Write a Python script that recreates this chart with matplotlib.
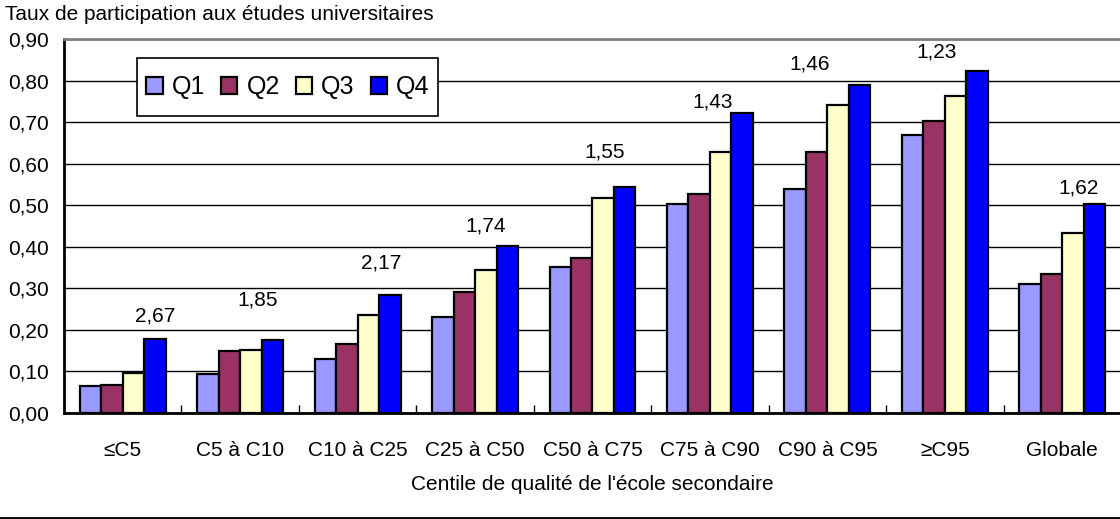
import numpy as np
import matplotlib
matplotlib.use('Agg')
import matplotlib.pyplot as plt
from matplotlib.lines import Line2D
from matplotlib.patches import Rectangle
from matplotlib.ticker import FuncFormatter

plt.rcParams['font.family'] = ['Liberation Sans', 'DejaVu Sans']

# donnees
categories = ['≤C5', 'C5 à C10', 'C10 à C25', 'C25 à C50', 'C50 à C75',
              'C75 à C90', 'C90 à C95', '≥C95', 'Globale']
q1 = [0.065, 0.094, 0.131, 0.232, 0.352, 0.504, 0.540, 0.668, 0.310]
q2 = [0.068, 0.150, 0.166, 0.292, 0.372, 0.527, 0.628, 0.702, 0.334]
q3 = [0.096, 0.152, 0.237, 0.343, 0.518, 0.628, 0.742, 0.763, 0.433]
q4 = [0.178, 0.175, 0.285, 0.403, 0.544, 0.722, 0.790, 0.824, 0.502]
ratios = ['2,67', '1,85', '2,17', '1,74', '1,55', '1,43', '1,46', '1,23', '1,62']
# position des etiquettes de ratio (decalage x en categories, hauteur y)
ratio_dx = [0.28, 0.15, 0.20, 0.09, 0.10, 0.02, -0.15, -0.07, 0.14]
ratio_y = [0.233, 0.272, 0.361, 0.450, 0.627, 0.748, 0.839, 0.868, 0.541]

series = [('Q1', q1, '#9999FF'), ('Q2', q2, '#993366'),
          ('Q3', q3, '#FFFFCC'), ('Q4', q4, '#0000FF')]

fig = plt.figure(figsize=(11.2, 5.19), dpi=100)
ax = fig.add_axes([64 / 1120, 1 - 413 / 519, (1121 - 64) / 1120, (413 - 39) / 519])

x = np.arange(len(categories))
w = 0.183
handles = []
for i, (name, vals, col) in enumerate(series):
    b = ax.bar(x + (i - 1.5) * w, vals, w, color=col, edgecolor='black',
               linewidth=1.6, label=name, zorder=3)
    handles.append(b)

for i, r in enumerate(ratios):
    ax.text(x[i] + ratio_dx[i], ratio_y[i], r, ha='center', va='center',
            fontsize=15, zorder=4)

ax.set_xlim(-0.5, len(categories) - 0.5)
ax.set_ylim(0, 0.9)
ax.set_yticks(np.arange(0, 0.91, 0.1))
ax.yaxis.set_major_formatter(FuncFormatter(lambda v, p: ('%.2f' % v).replace('.', ',')))
ax.grid(axis='y', color='black', linewidth=1, zorder=0)
ax.set_xticks(x)
ax.set_xticklabels(categories)
ax.set_xticks(np.arange(0.5, len(categories) - 1, 1), minor=True)
ax.tick_params(axis='x', which='major', length=0, pad=20, labelsize=15)
ax.tick_params(axis='x', which='minor', length=6, direction='in', width=1)
ax.tick_params(axis='y', length=0, labelsize=15, pad=11)

for s in ['left', 'bottom']:
    ax.spines[s].set_linewidth(2)
ax.spines['top'].set_color('#808080')
ax.spines['top'].set_linewidth(2)
ax.spines['right'].set_visible(False)

ax.set_xlabel("Centile de qualité de l'école secondaire", fontsize=15, labelpad=11)
fig.text(5 / 1120, 1 - 14 / 519, 'Taux de participation aux études universitaires',
         fontsize=15, ha='left', va='center')

# cadre de la legende
fig.add_artist(Rectangle((137 / 1120, 1 - 116 / 519), 301 / 1120, 58 / 519,
                         transform=fig.transFigure, facecolor='white',
                         edgecolor='black', linewidth=1.2, zorder=4))
fig.legend(handles, [s[0] for s in series], loc='center',
           bbox_to_anchor=(288 / 1120, 1 - 87 / 519), ncol=4, fontsize=18,
           frameon=False, handlelength=0.65, handleheight=0.65,
           handletextpad=0.36, columnspacing=0.65, borderpad=0, borderaxespad=0)

fig.add_artist(Line2D([0, 1], [1 / 519, 1 / 519], color='black', linewidth=2,
                      transform=fig.transFigure))

fig.savefig('out.png', dpi=100)
